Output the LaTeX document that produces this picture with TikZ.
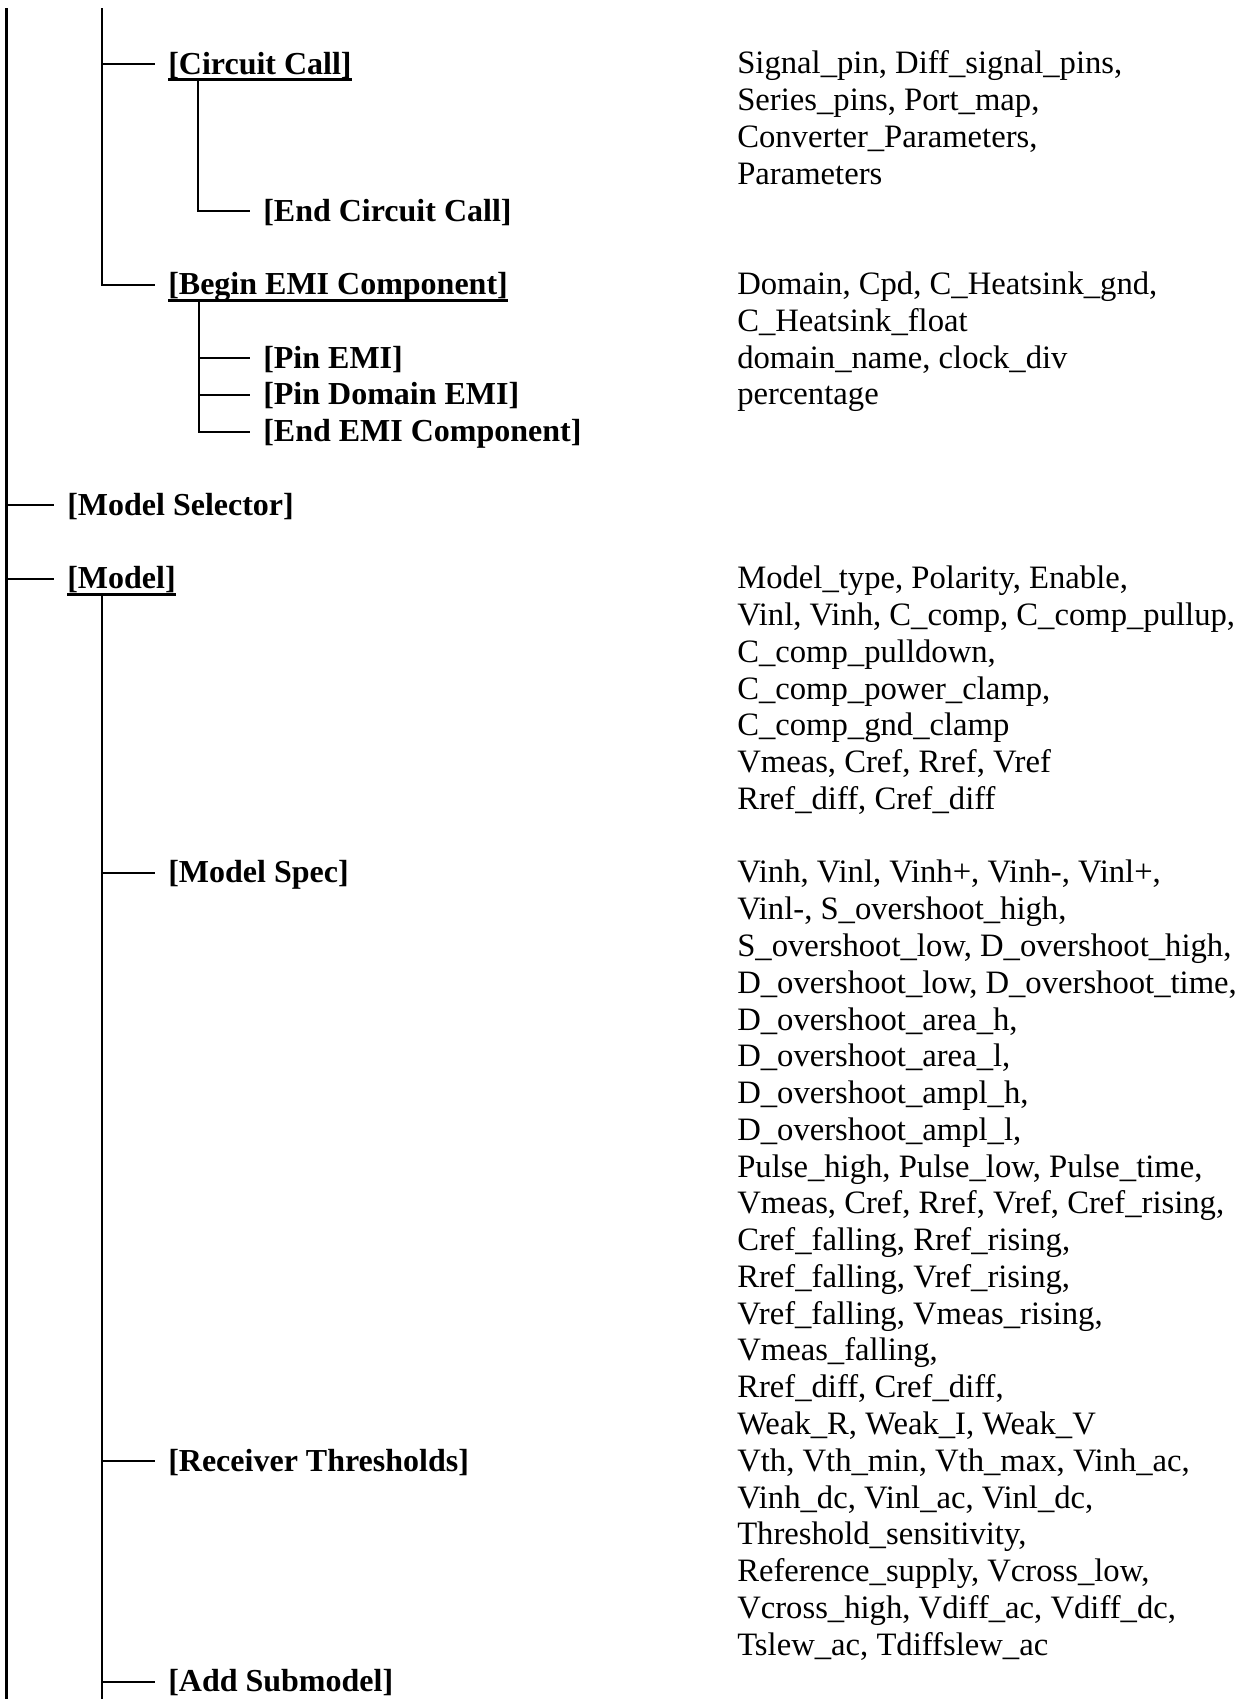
\documentclass[tikz,border=0pt]{standalone}
\usepackage{fontspec}
\setmainfont{Liberation Serif}
\begin{document}
\begin{tikzpicture}[x=0.75pt,y=-0.75pt,
  ln/.style={line width=1.6pt},
  ul/.style={line width=2.3pt},
  hd/.style={font=\fontsize{24}{28}\selectfont\bfseries, inner sep=0pt,
             anchor=base west, text height=15pt, text depth=0pt},
  % multi-line lists: the base anchor sits on the last line
  pl/.style={font=\fontsize{24.5}{27.58}\selectfont, inner sep=0pt,
             anchor=base west, align=left},
]
\useasboundingbox (0,0) rectangle (1244,1699);

% ---- spines ----
\coordinate (top0) at (6.5,8);
\coordinate (bot0) at (6.5,1699);
\coordinate (top1) at (102,8);
\coordinate (bot1) at (102,1699);
\coordinate (stemA) at (198,0);
\coordinate (stemB) at (199,0);

% ---- headings ----
\node[hd] (cc)   at (168,74)    {[Circuit Call]};
\node[hd] (ecc)  at (263,221.1) {[End Circuit Call]};
\node[hd] (bemi) at (168,294.6) {[Begin EMI Component]};
\node[hd] (pemi) at (263,368.2) {[Pin EMI]};
\node[hd] (pdemi) at (263,404.9) {[Pin Domain EMI]};
\node[hd] (eemi) at (263,441.7) {[End EMI Component]};
\node[hd] (msel) at (67,515.2)  {[Model Selector]};
\node[hd] (mdl)  at (67,588.8)  {[Model]};
\node[hd] (mspec) at (168,882.9) {[Model Spec]};
\node[hd] (rth)  at (168,1471.3) {[Receiver Thresholds]};
\node[hd] (asub) at (168,1691.9) {[Add Submodel]};

% ---- underlines ----
\foreach \n in {cc,bemi,mdl}{
  \coordinate (\n u) at ([yshift=-4.2pt]\n.base west);
  \draw[ul] (\n u) -- ([yshift=-4.2pt]\n.base east);
}

% ---- tree connectors ----
\draw[ln] (top0) -- (bot0);
\draw[ln] (top0 |- msel.west) -- ([xshift=-10pt]msel.west);
\draw[ln] (top0 |- mdl.west) -- ([xshift=-10pt]mdl.west);

\draw[ln] (top1) |- ([xshift=-10pt]bemi.west);
\draw[ln] (top1 |- cc.west) -- ([xshift=-10pt]cc.west);

\draw[ln] (stemA |- ccu) |- ([xshift=-10pt]ecc.west);

\draw[ln] (stemB |- bemiu) |- ([xshift=-10pt]eemi.west);
\draw[ln] (stemB |- pemi.west) -- ([xshift=-10pt]pemi.west);
\draw[ln] (stemB |- pdemi.west) -- ([xshift=-10pt]pdemi.west);

\draw[ln] (top1 |- mdlu) -- (bot1);
\draw[ln] (top1 |- mspec.west) -- ([xshift=-10pt]mspec.west);
\draw[ln] (top1 |- rth.west) -- ([xshift=-10pt]rth.west);
\draw[ln] (top1 |- asub.west) -- ([xshift=-10pt]asub.west);

% ---- parameter lists (placed by the baseline of their last line) ----
\node[pl] (pcc) at (737,184.3) {Signal\_pin, Diff\_signal\_pins,\\
  Series\_pins, Port\_map,\\ Converter\_Parameters,\\ Parameters};
\node[pl] (pbemi) at (737,331.4) {Domain, Cpd, C\_Heatsink\_gnd,\\ C\_Heatsink\_float};
\node[pl] (ppemi) at (737,368.2) {domain\_name, clock\_div};
\node[pl] (ppdemi) at (737,404.9) {percentage};
\node[pl] (pmdl) at (737,809.4) {Model\_type, Polarity, Enable,\\
  Vinl, Vinh, C\_comp, C\_comp\_pullup,\\ C\_comp\_pulldown,\\
  C\_comp\_power\_clamp,\\ C\_comp\_gnd\_clamp\\ Vmeas, Cref, Rref, Vref\\
  Rref\_diff, Cref\_diff};
\node[pl] (pmspec) at (737,1434.5) {Vinh, Vinl, Vinh+, Vinh-, Vinl+,\\
  Vinl-, S\_overshoot\_high,\\ S\_overshoot\_low, D\_overshoot\_high,\\
  D\_overshoot\_low, D\_overshoot\_time,\\ D\_overshoot\_area\_h,\\
  D\_overshoot\_area\_l,\\ D\_overshoot\_ampl\_h,\\ D\_overshoot\_ampl\_l,\\
  Pulse\_high, Pulse\_low, Pulse\_time,\\ Vmeas, Cref, Rref, Vref, Cref\_rising,\\
  Cref\_falling, Rref\_rising,\\ Rref\_falling, Vref\_rising,\\
  Vref\_falling, Vmeas\_rising,\\ Vmeas\_falling,\\ Rref\_diff, Cref\_diff,\\
  Weak\_R, Weak\_I, Weak\_V};
\node[pl] (prth) at (737,1655.1) {Vth, Vth\_min, Vth\_max, Vinh\_ac,\\
  Vinh\_dc, Vinl\_ac, Vinl\_dc,\\ Threshold\_sensitivity,\\
  Reference\_supply, Vcross\_low,\\ Vcross\_high, Vdiff\_ac, Vdiff\_dc,\\
  Tslew\_ac, Tdiffslew\_ac};
\end{tikzpicture}
\end{document}
